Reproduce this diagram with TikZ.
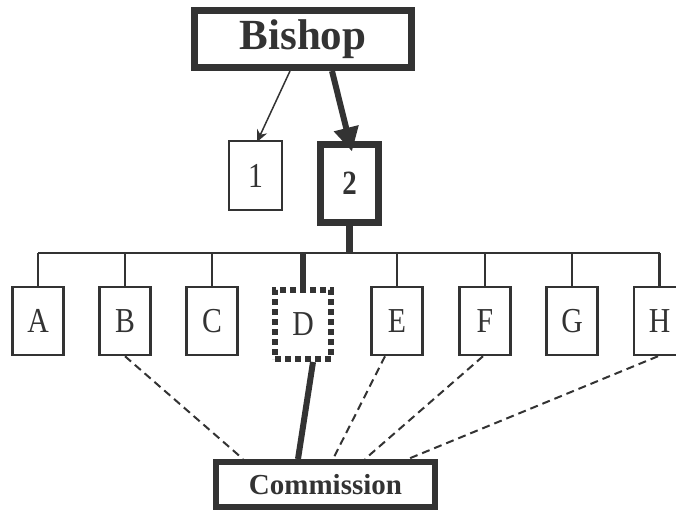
\documentclass[tikz,border=0pt]{standalone}
\usepackage{fontspec}
\usepackage{graphicx}
\setmainfont{Liberation Serif}
\usetikzlibrary{arrows.meta}
\definecolor{ink}{gray}{0.2}
% condensed lettering used inside the small boxes
\newcommand\tallglyph[1]{\scalebox{0.85}[1]{#1}}
\tikzset{
  box/.style={draw=ink, text=ink, inner sep=0pt, anchor=center},
  thinbox/.style={box, line width=2.5pt, minimum width=51pt, minimum height=68pt,
    font=\fontsize{35}{35}\selectfont},
  heavybox/.style={box, line width=7pt},
  bus/.style={draw=ink, line width=2.5pt},
  heavy/.style={draw=ink, line width=6pt},
  link/.style={draw=ink, line width=2pt, dash pattern=on 8pt off 5pt},
}
\begin{document}
\begin{tikzpicture}[x=1pt, y=-1pt]
\useasboundingbox (0,0) rectangle (676,512);
\clip (0,0) rectangle (676,512);

% top of the hierarchy
\node[heavybox, minimum width=217pt, minimum height=57pt,
  font=\bfseries\fontsize{43}{43}\selectfont] (bishop) at (303,39) {Bishop};
\node[box, line width=2pt, minimum width=53pt, minimum height=69pt,
  font=\fontsize{35}{35}\selectfont] (one) at (255.5,175.5) {\tallglyph{1}};
\node[heavybox, minimum width=58pt, minimum height=78pt,
  font=\bfseries\fontsize{34}{34}\selectfont] (two) at (349.5,183) {\tallglyph{2}};

% the eight groups
\node[thinbox] (A) at (38,321) {\tallglyph{A}};
\node[thinbox] (B) at (125,321) {\tallglyph{B}};
\node[thinbox] (C) at (212,321) {\tallglyph{C}};
\node[box, line width=6pt, dash pattern=on 6pt off 4pt, minimum width=56pt,
  minimum height=69pt, font=\fontsize{35}{35}\selectfont] (D) at (303,324.5) {\tallglyph{D}};
\node[thinbox] (E) at (397,321) {\tallglyph{E}};
\node[thinbox] (F) at (485,321) {\tallglyph{F}};
\node[thinbox] (G) at (572,321) {\tallglyph{G}};
\node[thinbox] (H) at (659.5,321) {\tallglyph{H}};

\node[box, line width=6pt, minimum width=219pt, minimum height=45pt,
  font=\bfseries\fontsize{29}{29}\selectfont] (comm) at (325.5,484.5) {Commission};

% arrows from the bishop
\draw[draw=ink, line width=1.5pt, -{Stealth[length=12pt,width=11pt]}]
  ([xshift=-13pt]bishop.south) -- ([xshift=1.5pt,yshift=-2pt]one.north);
\draw[draw=ink, fill=ink, line width=6pt, -{Triangle[length=24pt,width=24pt]}]
  ([xshift=29pt]bishop.south) -- ([xshift=2.5pt,yshift=-11pt]two.north);

% branch bus
\coordinate (busL) at (A.north |- 0,253);
\coordinate (busR) at (H.north |- 0,253);
\draw[bus] (busL) -- (busR);
\foreach \g in {A,B,C,E,F,G,H}
  \draw[bus] (\g.north |- busL) -- (\g.north);
\draw[heavy] (D.north |- busL) -- (D.north);
\draw[draw=ink, line width=7pt] (two.south) -- (two.south |- busL);

% links to the commission
\draw[heavy] ([xshift=10pt]D.south) -- ([xshift=-27.5pt]comm.north);
\draw[link] (B.south) -- ([xshift=-82.5pt]comm.north);
\draw[link] ([xshift=-12pt]E.south) -- ([xshift=7.5pt]comm.north);
\draw[link] ([xshift=-2pt]F.south) -- ([xshift=39.5pt]comm.north);
\draw[link] ([xshift=-1.5pt]H.south) -- ([xshift=82.5pt]comm.north);
\end{tikzpicture}
\end{document}
